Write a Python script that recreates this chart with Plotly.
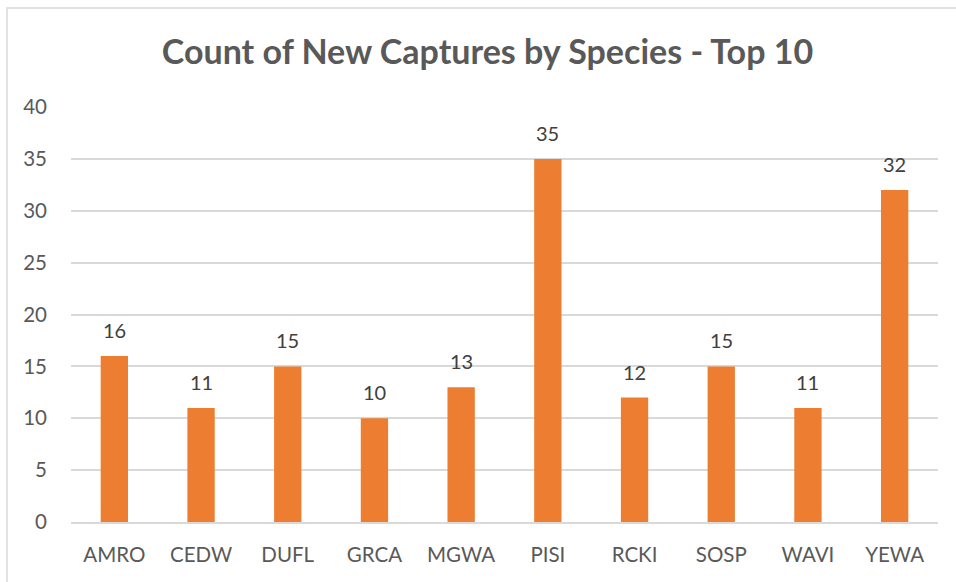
import plotly.graph_objects as go

species = ["AMRO", "CEDW", "DUFL", "GRCA", "MGWA", "PISI", "RCKI", "SOSP", "WAVI", "YEWA"]
counts = [16, 11, 15, 10, 13, 35, 12, 15, 11, 32]
y_ticks = [0, 5, 10, 15, 20, 25, 30, 35, 40]

FONT = "Lato"
TXT = "#595959"

fig = go.Figure()
fig.add_trace(go.Bar(x=species, y=counts, marker=dict(color="#ED7D31", line=dict(width=0)),
                     hoverinfo="x+y"))

for s, c in zip(species, counts):
    fig.add_annotation(x=s, y=c, text=str(c), showarrow=False, yanchor="middle", yshift=26,
                       font=dict(family=FONT, size=20, color="#404040"))

fig.add_shape(type="rect", xref="paper", yref="paper", x0=-0.0738, x1=1.5, y0=-1, y1=1.2386,
              line=dict(color="#D9D9D9", width=1.5), fillcolor="rgba(0,0,0,0)", layer="below")

fig.update_layout(
    width=956, height=582,
    margin=dict(l=71, r=18, t=107, b=60),
    paper_bgcolor="white", plot_bgcolor="white",
    bargap=0.685,
    showlegend=False,
    title=dict(text="<b>Count of New Captures by Species - Top 10</b>", x=487.5 / 956, xanchor="center",
               xref="container", y=1 - 52 / 582, yanchor="middle",
               font=dict(family=FONT, size=34, color=TXT)),
    xaxis=dict(showgrid=False, showline=True, linecolor="#D9D9D9", linewidth=1.5,
               ticks="", tickfont=dict(family=FONT, size=20.5, color=TXT), ticklabelstandoff=14),
    yaxis=dict(range=[0, 40], tickvals=y_ticks, showgrid=True, gridcolor="#D9D9D9", gridwidth=1.5,
               zeroline=False, showline=False, ticks="",
               tickfont=dict(family=FONT, size=20.5, color=TXT), ticklabelstandoff=23),
)

fig.write_html("out.html", config={"displayModeBar": False},
               post_script="document.body.style.margin='0';")
